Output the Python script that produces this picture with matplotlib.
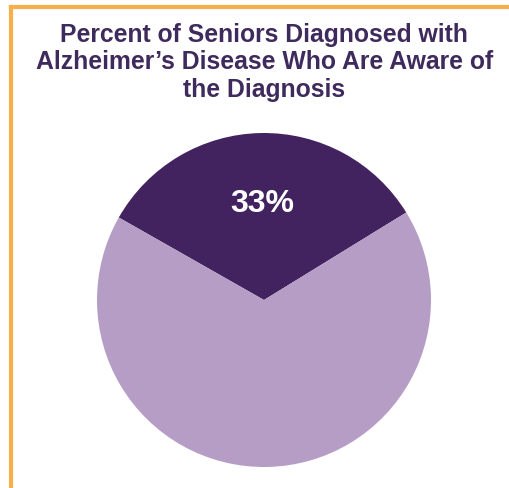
import matplotlib.pyplot as plt
from matplotlib.lines import Line2D

# данные
labels = ['Aware', 'Not aware']
values = [33, 67]
colors = ['#42235f', '#b59dc5']
title = "Percent of Seniors Diagnosed with\nAlzheimer\u2019s Disease Who Are Aware of\nthe Diagnosis"

fig = plt.figure(figsize=(5.10, 4.89), dpi=100)
fig.patch.set_facecolor('white')

# оранжевая рамка сверху и слева
fig.add_artist(Line2D([0.022, 1.0], [0.984, 0.984], color='#f5b04a', lw=3, transform=fig.transFigure))
fig.add_artist(Line2D([0.022, 0.022], [0.0, 0.984], color='#f5b04a', lw=3, transform=fig.transFigure))

fig.text(0.518, 0.953, title, ha='center', va='top', fontsize=17.8, fontweight='bold',
         color='#3e2a5c', family='Liberation Sans', linespacing=1.18)

# круг: центр ~ (264, 300), радиус ~167 px
r = 167
ax = fig.add_axes([(264 - r) / 510, (489 - 301 - r) / 489, 2 * r / 510, 2 * r / 489])
wedges, _ = ax.pie(values, colors=colors, startangle=31.6, counterclock=True,
                   wedgeprops=dict(linewidth=0))
ax.set_xlim(-1, 1)
ax.set_ylim(-1, 1)
ax.set_aspect('equal')
ax.axis('off')

ax.text(-0.01, 0.58, f'{values[0]}%', ha='center', va='center', color='white',
        fontsize=23, fontweight='bold', family='Liberation Sans')

fig.savefig('out.png', dpi=100)
